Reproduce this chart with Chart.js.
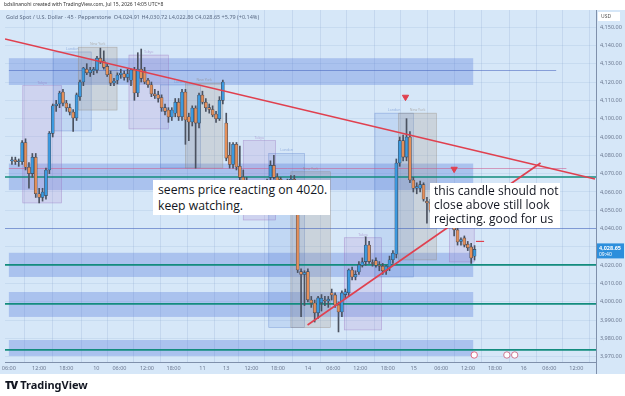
<!DOCTYPE html>
<html>
<head>
<meta charset="utf-8">
<script src="https://cdn.jsdelivr.net/npm/chart.js@4.4.1/dist/chart.umd.min.js"></script>
<style>
  html, body { margin: 0; padding: 0; background: #fff; }
  #wrap { position: relative; width: 625px; height: 396px; overflow: hidden; font-family: "Noto Sans", sans-serif; }
  canvas { position: absolute; left: 0; top: 0; }
  .credit { position: absolute; left: 4px; top: 1px; font-size: 5px; color: #333; white-space: nowrap; }
  .symbol { position: absolute; left: 6px; top: 13px; font-size: 5.5px; color: #5b6b85; white-space: nowrap; }
  .note { position: absolute; background: #fff; color: #131722; font-family: "Open Sans", sans-serif; white-space: nowrap; }
  #note1 { left: 153px; top: 180px; width: 177px; height: 35px; font-size: 12.2px; line-height: 16px; padding: 2px 0 0 5px; box-sizing: border-box; }
  #note2 { left: 430px; top: 183px; width: 130px; height: 45px; font-size: 12.1px; line-height: 14px; padding: 1px 0 0 4px; box-sizing: border-box; }
  .logo { position: absolute; left: 5px; top: 377px; font-size: 11px; font-weight: bold; color: #131722; font-family: "Noto Sans", sans-serif; }
  .logo b { font-weight: 900; letter-spacing: -1px; margin-right: 3px; }
</style>
</head>
<body>
<div id="wrap">
  <canvas id="chart" width="625" height="396"></canvas>
  <div class="credit">bdslinanohi created with TradingView.com, Jul 15, 2026 14:05 UTC+8</div>
  <div class="symbol">Gold Spot / U.S. Dollar · 45 · Pepperstone &nbsp;O4,024.91 H4,030.72 L4,022.86 C4,028.65 +5.79 (+0.14%)</div>
  <div class="note" id="note1">seems price reacting on 4020.<br>keep watching.</div>
  <div class="note" id="note2">this candle should not<br>close above still look<br>rejecting. good for us</div>
  <div class="logo"><b>TV</b>TradingView</div>
</div>
<script>
// XAUUSD 45 min candles
const openP  = [4077,4077.5,4076.5,4076.5,4087,4073.5,4070,4079,4059,4057,4058,4072,4092,4107,4108,4114.5,4108.5,4106,4103.6,4100.4,4112,4120,4127,4125,4126,4126.5,4133,4131.5,4128.5,4124.5,4119.5,4121,4124,4124.5,4122.5,4121,4126.5,4114,4127,4126,4121,4118.5,4113.5,4113,4111.5,4106,4104.7,4100.9,4103,4109,4101,4114.5,4101,4098.2,4105.8,4097.6,4112.9,4109,4106,4105,4102.5,4100,4110,4097.6,4080,4075,4086,4074,4068,4066,4063,4058,4060,4062,4059,4063,4068,4074.5,4068,4067,4061,4063,4064,4067,4064,4016.5,4015,4016.5,4001,3999.4,3994,3999.5,4001,4000.5,4005,4003.8,3998.3,3994.5,4004,4005,4017.4,4013.6,4016.3,4020,4022,4031,4021.5,4022.5,4020,4019.5,4017,4019,4023,4026,4075.8,4088,4079,4090,4066.5,4062,4062,4064,4055,4054,4050,4051,4048,4050,4046,4047,4043,4039.3,4033,4034.9,4031.5,4030,4024.91];
const highP  = [4079,4079,4078,4088,4089,4076,4081,4081,4062,4062,4073,4093,4108,4110,4115,4116,4110,4108,4105,4114,4121,4128,4130,4128,4128,4134,4138.5,4137,4130,4126,4122,4125,4127,4126,4127,4127,4128,4136,4138,4128,4122,4120,4116,4115,4113,4108,4106,4106,4111,4111,4116,4116,4103,4107,4107,4114,4115,4111,4108,4107,4104,4112,4121,4103,4087,4087,4087,4085,4072,4068,4065,4062,4064,4065,4064,4067,4077,4080,4070,4068,4065,4067,4069,4069,4066,4018,4017,4018,4003,4001,4003,4004,4003,4003,4007,4005,4000,4006,4007,4018,4019,4017,4022,4024,4035.5,4033,4023,4024,4022,4021,4020,4025,4028,4078,4090,4091,4100,4093,4068,4065,4066,4065,4057,4056,4053,4054,4052,4052,4049,4049,4045,4041,4035,4036,4033,4032,4030.72];
const lowP   = [4075,4075,4074,4075,4072,4062,4068,4057,4054,4055,4056,4070,4090,4104,4106,4107,4104,4102,4093,4099,4110,4118,4124,4123,4124,4125,4130,4127,4123,4118,4118,4119,4122,4121,4120,4118,4110,4112,4120,4119,4117,4112,4111,4109,4104,4102,4098,4099,4101,4099,4099,4086,4088,4096,4073,4095,4108,4104,4103,4101,4098,4099,4108,4077,4073,4073,4072,4066,4063,4060,4056,4054,4057,4058,4057,4061,4066,4067,4063,4060,4057,4059,4062,4062,4016,3992,3998,4000,3997,3989,3991,3995,3998,3997,4001,3997,3983.6,3992,4002,4003,4012,4012,4015,4019,4020,4021,4019.5,4019,4017,4015,4015,4017,4021,4024,4074,4077,4077,4065,4060,4059,4060,4055,4043,4049,4046,4047,4045,4045,4043,4042,4036,4031,4031,4030,4028,4021,4022.86];
const closeP = [4077.5,4076.5,4077,4087,4073.5,4070,4079,4059,4057,4060,4072,4092,4107,4108,4114,4108.5,4106,4103.6,4100.4,4113,4120,4127.6,4125,4126.5,4127,4133,4131,4128,4124,4119.4,4120.5,4123.8,4124.9,4122.5,4124.5,4126.5,4114,4127,4122,4120,4118.5,4113.5,4112.5,4111,4106,4104,4100.9,4104.7,4109,4101,4114.5,4099.3,4098.2,4105.8,4097.6,4112.9,4109,4106,4105,4102,4100,4110,4120,4078.5,4075,4086,4073.6,4068,4066,4063,4058,4060,4062,4059,4063,4066,4074.5,4068,4065,4061,4063,4065,4067,4064,4017.4,4015,4016,4001.1,3999.4,3994,4002.2,4002,4000.5,4001.5,4003.8,3998.3,3994.5,4004.9,4005.5,4017.4,4013.6,4015,4020.2,4021.8,4031,4022,4021,4020,4019.5,4017,4019.5,4023,4026.5,4075.8,4088,4079,4090,4066.5,4062,4063,4064,4056,4054,4050,4051,4048,4050,4046,4047,4043,4039.3,4032.7,4034,4031,4029.5,4024,4028.65];

// time axis labels (at candle index)
const tickIdx  = [-0.9, 8, 16, 24.8, 31.6, 39.7, 47.5, 56, 63, 70.4, 78.2, 87, 94.5, 102.4, 110.5, 118.1, 126.2, 134.1, 142, 150.4, 158, 165.9];
const tickText = ['06:00','12:00','18:00','10','06:00','12:00','18:00','11','13','12:00','18:00','14','06:00','12:00','18:00','15','06:00','12:00','18:00','16','06:00','12:00'];
const priceTicks = [3970,3980,3990,4000,4010,4020,4030,4040,4050,4060,4070,4080,4090,4100,4110,4120,4130,4140,4150];

// horizontal zones + levels
const zoneHi = [4133, 4075.5, 4026.8, 4005.4, 3979.2];
const zoneLo = [4118.4, 4061, 4013.6, 3991.8, 3970.5];
const levels = [4068.2, 4020.2, 3998.9, 3973.8];

// session boxes
const sessName  = ['Tokyo','London','New York','Tokyo','London','New York','Tokyo','London','New York','Tokyo','London','New York','Tokyo'];
const sessStart = [3.2, 12.2, 19.5, 34.4, 43.7, 51, 68, 75.5, 82, 97.7, 106.7, 113.7, 128.6];
const sessEnd   = [14.6, 23.3, 30.9, 46, 55.4, 62, 77.5, 86, 93.6, 108.7, 118, 124.8, 135.9];
const sessHi    = [4118, 4136.4, 4139, 4134.7, 4118.4, 4119.4, 4088, 4081, 4071, 4035, 4103, 4103, 4042];
const sessLo    = [4054, 4093.3, 4104.7, 4094.4, 4073.1, 4073, 4044.7, 3986, 3986, 3984.7, 4013.6, 4022.9, 4021.8];

// trendlines [x1, y1, x2, y2]
const trendDown = [-2.04, 4143.5, 171.4, 4067.1];
const trendUp   = [86.9, 3987.4, 155.4, 4075.8];
const arrowsX = [115.7, 130];
const arrowsY = [4111.8, 4072.5];

const XMIN = -2.04, XMAX = 171.7, YMIN = 3967.2, YMAX = 4159.3;

const BLUE = '#3c9ae0', ORANGE = '#e48f5a';

const wickData = lowP.map((l, i) => ({ x: i, y: [l, highP[i]] }));
const bodyData = openP.map((o, i) => {
    let a = o, b = closeP[i];
    if (Math.abs(a - b) < 0.5) b = a + 0.5; // doji still visible
    return { x: i, y: [a, b] };
});
const bodyColor = openP.map((o, i) => closeP[i] >= o ? BLUE : ORANGE);

const fmt = v => v.toLocaleString('en-US', { minimumFractionDigits: 2, maximumFractionDigits: 2 });

const backdrop = {
    id: 'backdrop',
    beforeDraw(chart) {
        const c = chart.ctx;
        c.save();
        c.fillStyle = '#ffffff';
        c.fillRect(0, 0, chart.width, chart.height);
        c.fillStyle = '#d6e7f8';
        c.fillRect(0, 10, chart.width, 364);
        c.restore();
    },
    beforeDatasetsDraw(chart) {
        const c = chart.ctx, x = chart.scales.x, y = chart.scales.y, a = chart.chartArea;
        c.save();
        c.beginPath();
        c.rect(a.left, a.top, a.right - a.left, a.bottom - a.top);
        c.clip();
        // zones
        c.fillStyle = 'rgba(70,110,215,0.3)';
        zoneHi.forEach((h, i) => {
            const x1 = x.getPixelForValue(-0.9), x2 = x.getPixelForValue(135.6);
            const y1 = y.getPixelForValue(h), y2 = y.getPixelForValue(zoneLo[i]);
            c.fillRect(x1, y1, x2 - x1, y2 - y1);
        });
        // sessions
        const fills = { 'Tokyo': 'rgba(175,135,205,0.2)', 'London': 'rgba(90,130,215,0.16)', 'New York': 'rgba(165,150,135,0.24)' };
        const edges = { 'Tokyo': 'rgba(150,110,190,0.55)', 'London': 'rgba(80,120,200,0.5)', 'New York': 'rgba(140,125,110,0.5)' };
        sessName.forEach((n, i) => {
            const x1 = x.getPixelForValue(sessStart[i]), x2 = x.getPixelForValue(sessEnd[i]);
            const y1 = y.getPixelForValue(sessHi[i]), y2 = y.getPixelForValue(sessLo[i]);
            c.fillStyle = fills[n];
            c.fillRect(x1, y1, x2 - x1, y2 - y1);
            c.strokeStyle = edges[n];
            c.lineWidth = 0.6;
            c.strokeRect(x1, y1, x2 - x1, y2 - y1);
            c.fillStyle = edges[n];
            c.font = '3.5px "Noto Sans"';
            c.textAlign = 'center';
            c.fillText(n, (x1 + x2) / 2, y1 - 2);
        });
        // thin guide lines
        c.lineWidth = 0.8;
        c.strokeStyle = 'rgba(70,100,190,0.7)';
        let yy = Math.round(y.getPixelForValue(4126.5)) + 0.5;
        c.beginPath(); c.moveTo(x.getPixelForValue(-0.9), yy); c.lineTo(x.getPixelForValue(160), yy); c.stroke();
        yy = Math.round(y.getPixelForValue(4040.3)) + 0.5;
        c.beginPath(); c.moveTo(a.left, yy); c.lineTo(a.right, yy); c.stroke();
        c.strokeStyle = 'rgba(205,90,140,0.7)';
        yy = Math.round(y.getPixelForValue(4073)) + 0.5;
        c.beginPath(); c.moveTo(x.getPixelForValue(-0.9), yy); c.lineTo(x.getPixelForValue(163), yy); c.stroke();
        c.restore();
    },
    afterDraw(chart) {
        const c = chart.ctx, x = chart.scales.x, y = chart.scales.y, a = chart.chartArea;
        c.save();
        // axis separator down through time strip
        c.strokeStyle = '#7f90ab';
        c.lineWidth = 1;
        c.beginPath(); c.moveTo(a.right + 0.5, 10); c.lineTo(a.right + 0.5, 374); c.stroke();
        // USD tag
        c.fillStyle = '#ffffff';
        c.fillRect(a.right + 2, 12, 22, 9);
        c.fillStyle = '#555';
        c.font = '5px "Noto Sans"';
        c.textAlign = 'left';
        c.textBaseline = 'middle';
        c.fillText('USD', a.right + 5, 16.5);
        // last price tag
        const last = closeP[closeP.length - 1];
        const py = y.getPixelForValue(last);
        c.fillStyle = '#2d8fdc';
        c.fillRect(a.right + 1, py - 6, 27, 15);
        c.fillStyle = '#ffffff';
        c.font = 'bold 5.5px "Noto Sans"';
        c.fillText(fmt(last), a.right + 3, py - 1);
        c.font = '5px "Noto Sans"';
        c.fillText('09:40', a.right + 3, py + 5);
        // event icons at the bottom
        const ey = a.bottom - 7;
        [[135.9, '#d94a6a'], [145.5, '#c45a7a'], [147.8, '#c45a7a']].forEach(e => {
            const ex = x.getPixelForValue(e[0]);
            c.beginPath(); c.arc(ex, ey, 3.2, 0, Math.PI * 2);
            c.fillStyle = '#fff'; c.fill();
            c.strokeStyle = e[1]; c.lineWidth = 0.8; c.stroke();
        });
        c.restore();
    }
};

const lineSet = (pts, color, width, order) => ({
    type: 'line',
    data: [{ x: pts[0], y: pts[1] }, { x: pts[2], y: pts[3] }],
    borderColor: color,
    borderWidth: width,
    pointRadius: 0,
    order: order
});

const datasets = [
    ...levels.map(v => lineSet([XMIN, v, XMAX, v], '#138c7e', 1.6, 6)),
    { type: 'bar', data: wickData, backgroundColor: '#4b5260', barThickness: 1, grouped: false, order: 4 },
    { type: 'bar', data: bodyData, backgroundColor: bodyColor, borderColor: '#3d4654', borderWidth: 0.6, borderSkipped: false, barThickness: 3, grouped: false, order: 3 },
    lineSet(trendDown, '#e0404f', 1.6, 1),
    lineSet(trendUp, '#e0404f', 1.6, 1),
    lineSet([136.4, 4033, 138.8, 4033], '#e0404f', 1.2, 1),
    {
        type: 'scatter',
        data: arrowsX.map((v, i) => ({ x: v, y: arrowsY[i] })),
        pointStyle: 'triangle',
        rotation: 180,
        pointRadius: 3.6,
        backgroundColor: '#e0404f',
        borderColor: '#e0404f',
        order: 0
    }
];

new Chart(document.getElementById('chart').getContext('2d'), {
    type: 'bar',
    data: { datasets: datasets },
    options: {
        responsive: false,
        animation: false,
        layout: { padding: { top: 10, left: 0, right: 0, bottom: 22 } },
        plugins: { legend: { display: false }, tooltip: { enabled: false } },
        scales: {
            x: {
                type: 'linear',
                min: XMIN,
                max: XMAX,
                offset: false,
                grid: { color: 'rgba(130,160,205,0.28)', lineWidth: 0.8, drawTicks: false },
                border: { color: '#7f90ab' },
                ticks: {
                    autoSkip: false,
                    maxRotation: 0,
                    padding: 3,
                    color: '#6b7890',
                    font: { size: 5.5, family: 'Noto Sans' },
                    callback: (v, i) => tickText[i]
                },
                afterBuildTicks: s => { s.ticks = tickIdx.map(v => ({ value: v })); },
                afterFit: s => { s.height = 12; s.paddingLeft = 0; s.paddingRight = 0; }
            },
            y: {
                position: 'right',
                min: YMIN,
                max: YMAX,
                grid: { color: 'rgba(130,160,205,0.22)', lineWidth: 0.8, drawTicks: false },
                border: { color: '#7f90ab' },
                ticks: {
                    padding: 4,
                    color: '#6b7890',
                    font: { size: 5.5, family: 'Noto Sans' },
                    callback: v => fmt(v)
                },
                afterBuildTicks: s => { s.ticks = priceTicks.map(v => ({ value: v })); },
                afterFit: s => { s.width = 29; s.paddingTop = 0; s.paddingBottom = 0; }
            }
        }
    },
    plugins: [backdrop]
});
</script>
</body>
</html>
